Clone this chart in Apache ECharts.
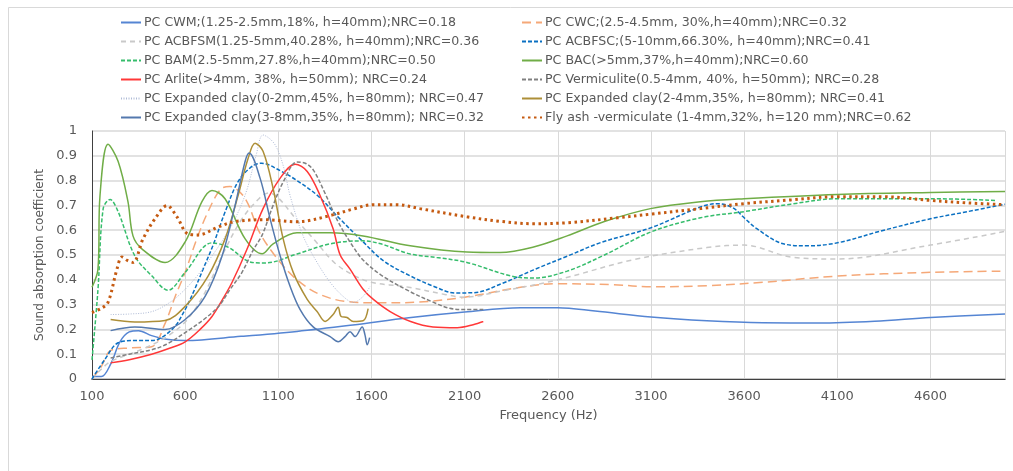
<!DOCTYPE html>
<html>
<head>
<meta charset="utf-8">
<script src="https://cdn.jsdelivr.net/npm/echarts@6/dist/echarts.min.js"></script>
<style>
  html, body { margin: 0; padding: 0; background: #fff; }
  #chart { width: 1013px; height: 471px; }
</style>
</head>
<body>
<div id="chart"></div>
<script>
// frequency (Hz) and absorption coefficient
const cwmF = [100, 150, 200, 250, 300, 350, 420, 500, 600, 900, 1200, 1500, 1800, 2100, 2400, 2600, 2800, 3100, 3400, 3700, 4000, 4300, 4600, 5000];
const cwmA = [0.01, 0.01, 0.06, 0.15, 0.19, 0.195, 0.175, 0.16, 0.155, 0.172, 0.192, 0.218, 0.247, 0.27, 0.287, 0.287, 0.274, 0.25, 0.235, 0.227, 0.226, 0.233, 0.248, 0.262];

const cwcF = [100, 150, 200, 300, 420, 490, 550, 600, 660, 720, 790, 840, 920, 1000, 1100, 1200, 1320, 1460, 1650, 1850, 2100, 2400, 2600, 2900, 3100, 3400, 3700, 4100, 4600, 5000];
const cwcA = [0, 0.05, 0.115, 0.125, 0.13, 0.22, 0.34, 0.43, 0.56, 0.67, 0.765, 0.776, 0.73, 0.59, 0.48, 0.40, 0.342, 0.313, 0.307, 0.31, 0.33, 0.37, 0.384, 0.38, 0.372, 0.376, 0.39, 0.415, 0.43, 0.435];

const acbfsmF = [100, 150, 200, 300, 400, 500, 600, 700, 800, 900, 1000, 1050, 1100, 1200, 1300, 1400, 1500, 1600, 1800, 2000, 2100, 2300, 2600, 3000, 3400, 3600, 3850, 4100, 4600, 5000];
const acbfsmA = [0, 0.04, 0.07, 0.1, 0.13, 0.17, 0.23, 0.34, 0.5, 0.64, 0.73, 0.75, 0.73, 0.64, 0.555, 0.47, 0.42, 0.39, 0.37, 0.34, 0.33, 0.355, 0.40, 0.48, 0.53, 0.54, 0.492, 0.484, 0.54, 0.595];

const acbfscF = [100, 170, 240, 330, 420, 530, 600, 650, 700, 750, 815, 885, 960, 1010, 1110, 1200, 1310, 1430, 1555, 1665, 1810, 1930, 2050, 2150, 2300, 2470, 2650, 2830, 3100, 3370, 3460, 3540, 3600, 3670, 3810, 3940, 4100, 4350, 4600, 4800, 5000];
const acbfscA = [0, 0.08, 0.146, 0.155, 0.155, 0.2, 0.28, 0.36, 0.45, 0.54, 0.675, 0.797, 0.858, 0.87, 0.84, 0.8, 0.74, 0.646, 0.553, 0.476, 0.415, 0.375, 0.347, 0.348, 0.385, 0.44, 0.495, 0.55, 0.61, 0.695, 0.707, 0.69, 0.65, 0.605, 0.545, 0.537, 0.549, 0.6, 0.646, 0.675, 0.705];

const bamF = [100, 132, 160, 197, 240, 330, 422, 508, 600, 744, 830, 959, 1030, 1200, 1378, 1555, 1650, 1808, 1950, 2112, 2345, 2470, 2650, 2850, 3100, 3365, 3600, 3850, 4100, 4600, 4950];
const bamA = [0.077, 0.36, 0.687, 0.724, 0.675, 0.496, 0.415, 0.358, 0.43, 0.549, 0.532, 0.47, 0.468, 0.504, 0.545, 0.557, 0.545, 0.504, 0.49, 0.47, 0.416, 0.407, 0.435, 0.5, 0.593, 0.65, 0.675, 0.705, 0.727, 0.727, 0.72];

const bacF = [100, 132, 143, 186, 240, 293, 320, 369, 492, 600, 690, 744, 814, 922, 1013, 1072, 1200, 1378, 1555, 1808, 2112, 2290, 2470, 2650, 2850, 3097, 3365, 3600, 4100, 4600, 5000];
const bacA = [0.37, 0.443, 0.74, 0.947, 0.878, 0.715, 0.577, 0.524, 0.47, 0.553, 0.715, 0.76, 0.727, 0.565, 0.505, 0.545, 0.59, 0.59, 0.577, 0.537, 0.512, 0.51, 0.532, 0.577, 0.635, 0.687, 0.715, 0.727, 0.744, 0.752, 0.756];

const arliteF = [200, 300, 420, 520, 600, 680, 744, 800, 852, 930, 1018, 1110, 1190, 1255, 1324, 1394, 1432, 1485, 1555, 1610, 1700, 1810, 1930, 2060, 2150, 2200];
const arliteA = [0.065, 0.078, 0.1, 0.125, 0.15, 0.2, 0.252, 0.32, 0.39, 0.52, 0.687, 0.81, 0.866, 0.837, 0.74, 0.606, 0.5, 0.443, 0.362, 0.321, 0.272, 0.232, 0.21, 0.207, 0.22, 0.232];

const vermF = [200, 300, 420, 500, 600, 700, 780, 840, 905, 965, 1013, 1072, 1130, 1200, 1250, 1290, 1350, 1420, 1500, 1555, 1650, 1800, 1930, 2020, 2100, 2200];
const vermA = [0.085, 0.1, 0.118, 0.14, 0.187, 0.24, 0.293, 0.36, 0.43, 0.52, 0.58, 0.7, 0.8, 0.875, 0.868, 0.84, 0.75, 0.635, 0.535, 0.48, 0.42, 0.355, 0.31, 0.285, 0.28, 0.28];

const ec02F = [200, 300, 422, 520, 600, 680, 744, 810, 868, 930, 980, 1018, 1060, 1093, 1130, 1163, 1233, 1308, 1378, 1448, 1502, 1555, 1593];
const ec02A = [0.26, 0.262, 0.272, 0.31, 0.362, 0.43, 0.496, 0.57, 0.646, 0.76, 0.9, 0.984, 0.965, 0.93, 0.85, 0.74, 0.577, 0.47, 0.39, 0.333, 0.309, 0.333, 0.374];

const ec24F = [200, 330, 492, 600, 723, 814, 884, 938, 975, 1018, 1072, 1126, 1180, 1255, 1308, 1351, 1394, 1421, 1437, 1469, 1502, 1555, 1582];
const ec24A = [0.24, 0.23, 0.236, 0.293, 0.415, 0.565, 0.74, 0.89, 0.951, 0.918, 0.768, 0.565, 0.43, 0.321, 0.272, 0.232, 0.26, 0.289, 0.252, 0.248, 0.232, 0.235, 0.284];

const ec38F = [200, 330, 492, 600, 707, 798, 868, 922, 943, 1002, 1056, 1110, 1163, 1217, 1287, 1378, 1421, 1458, 1485, 1512, 1550, 1565, 1577, 1590];
const ec38A = [0.195, 0.21, 0.2, 0.24, 0.333, 0.496, 0.7, 0.878, 0.911, 0.81, 0.646, 0.496, 0.374, 0.28, 0.21, 0.171, 0.15, 0.171, 0.191, 0.171, 0.21, 0.178, 0.138, 0.167];

const flyF = [100, 150, 186, 234, 261, 290, 320, 374, 438, 503, 556, 615, 669, 777, 868, 1030, 1200, 1378, 1500, 1609, 1737, 1860, 2112, 2300, 2470, 2650, 2920, 3100, 3365, 3600, 3850, 4100, 4350, 4600, 4800, 5000];
const flyA = [0.268, 0.285, 0.309, 0.443, 0.492, 0.478, 0.47, 0.565, 0.646, 0.699, 0.654, 0.585, 0.581, 0.613, 0.635, 0.642, 0.634, 0.659, 0.685, 0.703, 0.703, 0.687, 0.654, 0.635, 0.626, 0.63, 0.65, 0.665, 0.687, 0.707, 0.722, 0.735, 0.735, 0.72, 0.71, 0.703];

const xTickLabels = ['100', '600', '1100', '1600', '2100', '2600', '3100', '3600', '4100', '4600'];
const fOffset = 100; // axis starts at 100 Hz

const chart = echarts.init(document.getElementById('chart'));

function mk(name, fs, as, color, type, width) {
  return {
    name: name,
    type: 'line',
    smooth: 0.35,
    symbol: 'none',
    lineStyle: { color: color, type: type, width: width },
    itemStyle: { color: color },
    data: fs.map((f, i) => [f - fOffset, as[i]])
  };
}

const series = [
  mk('PC CWM;(1.25-2.5mm,18%, h=40mm);NRC=0.18', cwmF, cwmA, '#5585D3', 'solid', 1.5),
  mk('PC CWC;(2.5-4.5mm, 30%,h=40mm);NRC=0.32', cwcF, cwcA, '#F5A878', [9, 5], 1.5),
  mk('PC ACBFSM(1.25-5mm,40.28%, h=40mm);NRC=0.36', acbfsmF, acbfsmA, '#C9C9C9', [5, 4], 1.5),
  mk('PC ACBFSC;(5-10mm,66.30%, h=40mm);NRC=0.41', acbfscF, acbfscA, '#0A70C2', [4, 2], 1.5),
  mk('PC BAM(2.5-5mm,27.8%,h=40mm);NRC=0.50', bamF, bamA, '#36BD6C', [4, 2], 1.5),
  mk('PC BAC(>5mm,37%,h=40mm);NRC=0.60', bacF, bacA, '#70AD47', 'solid', 1.5),
  mk('PC Arlite(>4mm, 38%, h=50mm); NRC=0.24', arliteF, arliteA, '#FF3838', 'solid', 1.5),
  mk('PC Vermiculite(0.5-4mm, 40%, h=50mm); NRC=0.28', vermF, vermA, '#808080', [4, 2], 1.5),
  mk('PC Expanded clay(0-2mm,45%, h=80mm); NRC=0.47', ec02F, ec02A, '#AFBBD6', [1, 1.5], 1),
  mk('PC Expanded clay(2-4mm,35%, h=80mm); NRC=0.41', ec24F, ec24A, '#AD8F38', 'solid', 1.5),
  mk('PC Expanded clay(3-8mm,35%, h=80mm); NRC=0.32', ec38F, ec38A, '#5479AE', 'solid', 1.5),
  mk('Fly ash -vermiculate (1-4mm,32%, h=120 mm);NRC=0.62', flyF, flyA, '#C55A11', [2.5, 3.5], 3)
];

const leftNames = series.filter((s, i) => i % 2 === 0).map(s => s.name);
const rightNames = series.filter((s, i) => i % 2 === 1).map(s => s.name);

const legendBase = {
  orient: 'vertical',
  top: 16,
  padding: 0,
  itemWidth: 20,
  itemHeight: 14,
  itemGap: 6,
  itemStyle: { opacity: 0 },
  textStyle: { fontFamily: 'DejaVu Sans', fontSize: 12.6, color: '#595959', padding: [0, 0, 0, -2] }
};

chart.setOption({
  animation: false,
  backgroundColor: '#fff',
  graphic: [{
    type: 'polyline',
    shape: { points: [[8.5, 471], [8.5, 7.5], [1013, 7.5]] },
    style: { stroke: '#D9D9D9', fill: null, lineWidth: 1 },
    silent: true
  }],
  legend: [
    Object.assign({}, legendBase, { left: 120, data: leftNames }),
    Object.assign({}, legendBase, { left: 521, data: rightNames })
  ],
  grid: { left: 92, right: 8, top: 131, bottom: 92 },
  xAxis: [{
    type: 'value',
    min: 0,
    max: 4900,
    interval: 500,
    name: 'Frequency (Hz)',
    nameLocation: 'middle',
    nameGap: 30,
    nameTextStyle: { fontFamily: 'DejaVu Sans', fontSize: 13, color: '#595959' },
    axisLine: { show: true, lineStyle: { color: '#C8C8C8', width: 2 } },
    axisTick: { show: false },
    axisLabel: {
      margin: 11,
      fontFamily: 'DejaVu Sans', fontSize: 13, color: '#595959',
      showMaxLabel: false,
      formatter: v => xTickLabels[Math.round(v / 500)] || ''
    },
    splitLine: { show: true, lineStyle: { color: '#D9D9D9', width: 1 } }
  }, {
    type: 'value',
    position: 'top',
    min: 0,
    max: 4900,
    axisLine: { show: true, lineStyle: { color: '#404040', width: 1 } },
    axisTick: { show: false },
    axisLabel: { show: false },
    splitLine: { show: false }
  }],
  yAxis: [{
    type: 'value',
    min: 0,
    max: 1,
    interval: 0.1,
    name: 'Sound absorption coefficient',
    nameLocation: 'middle',
    nameGap: 41,
    nameTextStyle: { fontFamily: 'DejaVu Sans', fontSize: 12, color: '#595959' },
    axisLine: { show: true, lineStyle: { color: '#C8C8C8', width: 1 } },
    axisTick: { show: false },
    axisLabel: { margin: 15, fontFamily: 'DejaVu Sans', fontSize: 13, color: '#595959' },
    splitLine: { show: true, lineStyle: { color: '#D9D9D9', width: 1.5 } }
  }, {
    type: 'value',
    position: 'right',
    min: 0,
    max: 1,
    axisLine: { show: true, lineStyle: { color: '#404040', width: 1 } },
    axisTick: { show: false },
    axisLabel: { show: false },
    splitLine: { show: false }
  }],
  series: series
});
</script>
</body>
</html>
